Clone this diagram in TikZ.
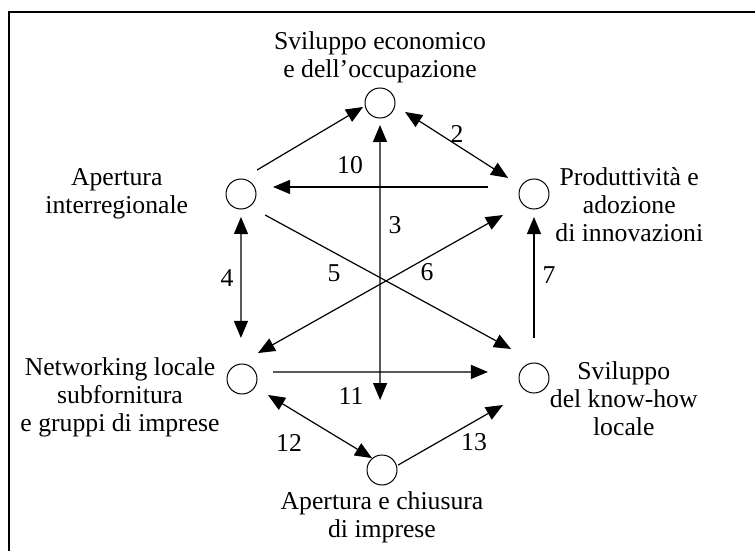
\documentclass[tikz,border=0pt]{standalone}
\usepackage{fontspec}
\setmainfont{Liberation Serif}
\usetikzlibrary{positioning, arrows.meta}

\begin{document}
\begin{tikzpicture}[
        x=0.5pt, y=-0.5pt,
        font=\fontsize{12.85}{14}\selectfont,
        circ/.style={circle, draw, line width=0.5pt, minimum size=15pt, inner sep=0pt},
        txt/.style={align=center, inner sep=0pt},
        num/.style={inner sep=0pt},
        arrow/.style={-{Triangle[length=8.5pt, width=7pt]}, line width=0.6pt},
        both/.style={{Triangle[length=8.5pt, width=7pt]}-{Triangle[length=8.5pt, width=7pt]}, line width=0.6pt}
    ]
        \useasboundingbox (0,0) rectangle (755,551);
        % Frame
        \draw [line width=0.85pt] (755,12) -- (9,12) -- (9,551);

        % Circles
        \node (svil) [circ] at (380,103) {};
        \node (aper) [circ] at (241,194) {};
        \node (prod) [circ] at (534,194) {};
        \node (netw) [circ] at (242,379) {};
        \node (know) [circ] at (534,378) {};
        \node (impr) [circ] at (382,470) {};

        % Texts
        \node (tsvil) [txt, above=2pt of svil] {Sviluppo economico\\e dell'occupazione};
        \node (taper) [txt, left=18.5pt of aper] {Apertura\\interregionale};
        \node (tprod) [txt, right=2.75pt of prod, yshift=-5.5pt] {Produttività e\\adozione\\di innovazioni};
        \node (tnetw) [txt, left=3.25pt of netw, yshift=-9pt] {Networking locale\\subfornitura\\e gruppi di imprese};
        \node (tknow) [txt, right=0pt of know, yshift=-10.5pt] {Sviluppo\\del know-how\\locale};
        \node (timpr) [txt, below=3pt of impr] {Apertura e chiusura\\di imprese};

        % Arrows
        \draw [arrow, shorten <=8.4pt, shorten >=1pt] (aper.84) -- (svil.191);
        \draw [both, shorten <=5.8pt, shorten >=7.5pt] (svil.-10) -- (prod.149);
        \draw [both, shorten <=3.25pt, shorten >=27.3pt] (svil.-90) -- (impr.97);
        \draw [arrow, shorten <=16.1pt, shorten >=9.1pt] (prod.153) -- (aper.27);
        \draw [both, shorten <=3.75pt, shorten >=12.8pt] (aper.-90) -- (netw.94);
        \draw [arrow, shorten <=8.65pt, shorten >=14.3pt] (aper.-55) -- (know.82);
        \draw [both, shorten <=11pt, shorten >=11.1pt] (netw.102) -- (prod.221);
        \draw [arrow, shorten <=12.25pt, shorten >=3.75pt] (know.90) -- (prod.-90);
        \draw [arrow, shorten <=8.6pt, shorten >=15.9pt] (netw.27) -- (know.157);
        \draw [both, shorten <=7.5pt] (netw.-32) -- (impr.130);
        \draw [arrow, shorten <=0.65pt, shorten >=13.55pt] (impr.16) -- (know.241);

        % Numbers
        \node (n2) [num] at (457,134) {2};
        \node (n3) [num] at (395,225) {3};
        \node (n4) [num] at (227,278) {4};
        \node (n5) [num] at (334,273) {5};
        \node (n6) [num] at (427,272) {6};
        \node (n7) [num] at (549,275) {7};
        \node (n10) [num] at (350,165) {10};
        \node (n11) [num] at (351,396) {11};
        \node (n12) [num] at (289,443) {12};
        \node (n13) [num] at (474,442) {13};
\end{tikzpicture}
\end{document}
